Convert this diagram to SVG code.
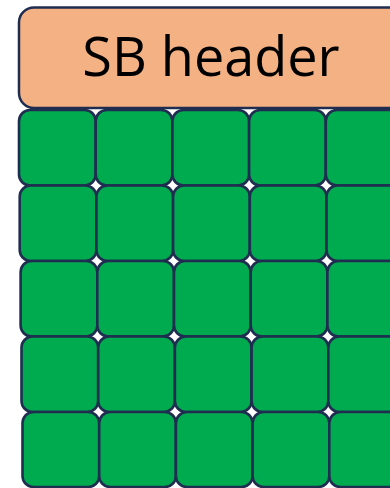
<svg xmlns="http://www.w3.org/2000/svg" width="390" height="488" viewBox="0 0 390 488">
<style>
.hdr{fill:#F4B183;stroke:#1F2D50;stroke-width:2.5}
.cell{fill:#00AB4F;stroke:#1F2D50;stroke-width:2.6}
.t{font-family:"Open Sans","Noto Sans",sans-serif;font-size:54px;fill:#000}
</style>
<rect width="390" height="488" fill="#fff"/>
<g id="header">
<rect class="hdr" x="19" y="7.5" width="386" height="100.5" rx="15"/>
<text class="t" x="211" y="76" text-anchor="middle">SB header</text>
</g>
<g id="row1" transform="translate(19,110)">
<rect id="c11" class="cell" x="0" y="0" width="76.7" height="75.5" rx="11"/>
<rect id="c12" class="cell" x="76.7" y="0" width="76.7" height="75.5" rx="11"/>
<rect id="c13" class="cell" x="153.4" y="0" width="76.7" height="75.5" rx="11"/>
<rect id="c14" class="cell" x="230.1" y="0" width="76.7" height="75.5" rx="11"/>
<rect id="c15" class="cell" x="306.8" y="0" width="76.7" height="75.5" rx="11"/>
</g>
<g id="row2" transform="translate(19.7,185.5)">
<rect id="c21" class="cell" x="0" y="0" width="76.7" height="75.5" rx="11"/>
<rect id="c22" class="cell" x="76.7" y="0" width="76.7" height="75.5" rx="11"/>
<rect id="c23" class="cell" x="153.4" y="0" width="76.7" height="75.5" rx="11"/>
<rect id="c24" class="cell" x="230.1" y="0" width="76.7" height="75.5" rx="11"/>
<rect id="c25" class="cell" x="306.8" y="0" width="76.7" height="75.5" rx="11"/>
</g>
<g id="row3" transform="translate(20.6,261)">
<rect id="c31" class="cell" x="0" y="0" width="76.7" height="75.5" rx="11"/>
<rect id="c32" class="cell" x="76.7" y="0" width="76.7" height="75.5" rx="11"/>
<rect id="c33" class="cell" x="153.4" y="0" width="76.7" height="75.5" rx="11"/>
<rect id="c34" class="cell" x="230.1" y="0" width="76.7" height="75.5" rx="11"/>
<rect id="c35" class="cell" x="306.8" y="0" width="76.7" height="75.5" rx="11"/>
</g>
<g id="row4" transform="translate(21.5,336.5)">
<rect id="c41" class="cell" x="0" y="0" width="76.7" height="75.5" rx="11"/>
<rect id="c42" class="cell" x="76.7" y="0" width="76.7" height="75.5" rx="11"/>
<rect id="c43" class="cell" x="153.4" y="0" width="76.7" height="75.5" rx="11"/>
<rect id="c44" class="cell" x="230.1" y="0" width="76.7" height="75.5" rx="11"/>
<rect id="c45" class="cell" x="306.8" y="0" width="76.7" height="75.5" rx="11"/>
</g>
<g id="row5" transform="translate(22.5,412)">
<rect id="c51" class="cell" x="0" y="0" width="76.7" height="75" rx="11"/>
<rect id="c52" class="cell" x="76.7" y="0" width="76.7" height="75" rx="11"/>
<rect id="c53" class="cell" x="153.4" y="0" width="76.7" height="75" rx="11"/>
<rect id="c54" class="cell" x="230.1" y="0" width="76.7" height="75" rx="11"/>
<rect id="c55" class="cell" x="306.8" y="0" width="76.7" height="75" rx="11"/>
</g>
<g id="connectors"/>
</svg>
